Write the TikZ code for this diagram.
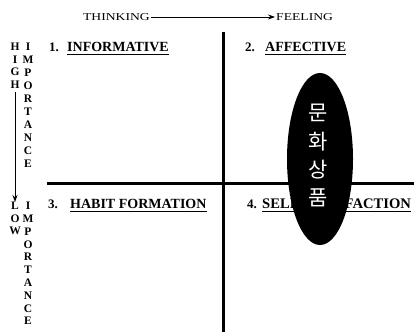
\documentclass[tikz,border=0pt]{standalone}
\usepackage{fontspec}
\setmainfont{Liberation Serif}
\newfontfamily\widefont[FakeStretch=1.3]{Liberation Serif}
\newfontfamily\krfont{Noto Sans CJK KR}
\usetikzlibrary{shapes.geometric,arrows.meta}
\begin{document}
\begin{tikzpicture}[x=1pt,y=-1pt,
  toplabel/.style={font=\widefont\fontsize{10.5}{12}\selectfont, inner sep=1pt},
  headnum/.style={font=\bfseries\fontsize{13}{15}\selectfont, anchor=base west, inner sep=0pt},
  headword/.style={font=\bfseries\fontsize{14}{16}\selectfont, anchor=base west, inner sep=0pt},
  uline/.style={line width=1pt},
  vletter/.style={font=\bfseries\fontsize{11.5}{13}\selectfont, inner sep=0pt},
  divider/.style={line width=2.6pt},
  krchar/.style={font=\krfont\fontsize{21}{24}\selectfont, text=white, inner sep=0pt}]
\useasboundingbox (0,0) rectangle (414,332);
% top axis
\node[toplabel, anchor=east] (think) at (151,17) {THINKING};
\node[toplabel, anchor=west] (feel) at (275,17) {FEELING};
\draw[line width=0.8pt, -{Stealth[length=7pt,width=5pt]}] (think) -- (feel);
% dividers
\coordinate (vt) at (223.5,32);
\coordinate (vb) at (223.5,332);
\coordinate (hl) at (47,183.5);
\coordinate (hr) at (414,183.5);
\draw[divider] (vt) -- (vb);
\draw[divider] (hl) -- (hr);
% headings
\node[headnum] (n1) at (49,51) {1.};
\node[headword] (w1) at (67,51) {INFORMATIVE};
\node[headnum] (n2) at (245,51) {2.};
\node[headword] (w2) at (265,51) {AFFECTIVE};
\node[headnum] (n3) at (48,208) {3.};
\node[headword] (w3) at (70,208) {HABIT FORMATION};
\node[headnum] (n4) at (247,208) {4.};
\node[headword, font=\bfseries\fontsize{14.6}{16}\selectfont] (w4) at (262,208) {SELF-SATISFACTION};
\foreach \w in {w1,w2,w3,w4}
  \draw[uline] ([yshift=-3.5pt]\w.base west) -- ([yshift=-3.5pt]\w.base east);
% left vertical labels
\foreach \c [count=\i] in {H,I,G,H}
  \node[vletter] (hi\i) at (15,{47+12.5*(\i-1)}) {\c};
\foreach \c [count=\i] in {I,M,P,O,R,T,A,N,C,E}
  \node[vletter] (ia\i) at (28,{47+13*(\i-1)}) {\c};
\foreach \c [count=\i] in {L,O,W}
  \node[vletter] (lo\i) at (15,{206+12.5*(\i-1)}) {\c};
\foreach \c [count=\i] in {I,M,P,O,R,T,A,N,C,E}
  \node[vletter] (ib\i) at (28,{206+12.8*(\i-1)}) {\c};
\coordinate (as) at (15,92);
\draw[line width=0.8pt, -{Stealth[length=7pt,width=5pt]}] (as) -- (lo1.north);
% ellipse
\node[ellipse, fill=black, minimum width=66pt, minimum height=172pt, inner sep=0pt] (ell) at (320,159) {};
\foreach \c [count=\i] in {문,화,상,품}
  \node[krchar] (k\i) at (318,{113+28.3*(\i-1)}) {\c};
\end{tikzpicture}
\end{document}
